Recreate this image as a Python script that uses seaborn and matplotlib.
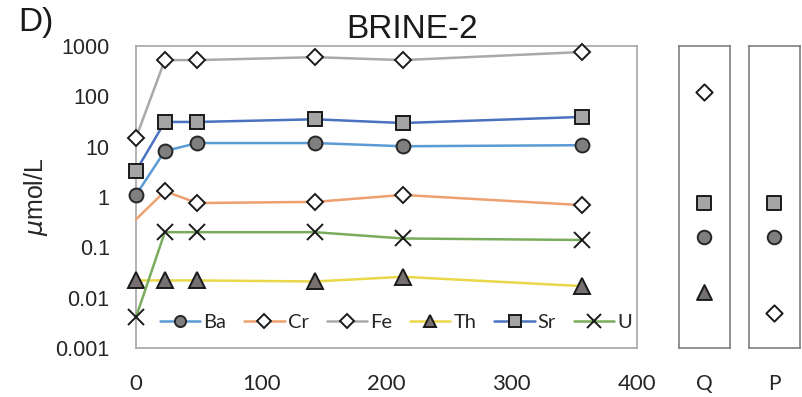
import matplotlib
matplotlib.use("Agg")
import matplotlib.pyplot as plt
import seaborn as sns
import pandas as pd

# Sampling times (days) and concentrations (µmol/L) for BRINE-2
days = [0, 23, 49, 143, 213, 356]
ba = [1.1, 8.2, 11.8, 11.8, 10.2, 10.7]
cr = [0.36, 1.3, 0.76, 0.8, 1.1, 0.69]
fe = [15, 525, 525, 600, 525, 760]
th = [0.022, 0.022, 0.022, 0.021, 0.026, 0.017]
sr = [3.3, 31, 31, 35, 29.5, 39]
u = [0.0041, 0.2, 0.2, 0.2, 0.15, 0.14]

# End-member panels
q_elements = ["Fe", "Sr", "Ba", "Th"]
q_values = [122, 0.76, 0.16, 0.013]
p_elements = ["Sr", "Ba", "Fe"]
p_values = [0.76, 0.16, 0.0049]

y_ticks = [0.001, 0.01, 0.1, 1, 10, 100, 1000]
y_ticklabels = ["0.001", "0.01", "0.1", "1", "10", "100", "1000"]
x_ticks = [0, 100, 200, 300, 400]

sns.set_theme(style="white")
plt.rcParams["font.family"] = ["Liberation Sans", "DejaVu Sans"]

styles = {
    "Ba": dict(color="#5b9bd5", marker="o", mfc="#7f7f7f", mec="#262626", ms=10),
    "Cr": dict(color="#eea070", marker="D", mfc="white", mec="#1a1a1a", ms=8.5),
    "Fe": dict(color="#a9a9a9", marker="D", mfc="white", mec="#1a1a1a", ms=8.5),
    "Th": dict(color="#e8d84a", marker="^", mfc="#777070", mec="#1a1a1a", ms=11),
    "Sr": dict(color="#4a72c0", marker="s", mfc="#a5a5a5", mec="#1a1a1a", ms=10),
    "U": dict(color="#7aac5e", marker="x", mfc="black", mec="#1a1a1a", ms=12),
}
series = {"Ba": ba, "Cr": cr, "Fe": fe, "Th": th, "Sr": sr, "U": u}

fig = plt.figure(figsize=(8.02, 3.97), dpi=100)
ax = fig.add_axes([0.1696, 0.1234, 0.6247, 0.7607])
axq = fig.add_axes([0.8466, 0.1234, 0.0636, 0.7607])
axp = fig.add_axes([0.9339, 0.1234, 0.0636, 0.7607])

spine_color = "#a6a6a6"

for name, vals in series.items():
    st = styles[name]
    df = pd.DataFrame({"day": days, "conc": vals})
    extra = {}
    if name == "Cr":
        extra["markevery"] = list(range(1, len(days)))
    sns.lineplot(data=df, x="day", y="conc", ax=ax, color=st["color"], lw=1.8,
                 marker=st["marker"], markersize=st["ms"],
                 markerfacecolor=st["mfc"], markeredgecolor=st["mec"],
                 markeredgewidth=1.4, label=name, zorder=3, clip_on=False, **extra)

ax.set_yscale("log")
ax.set_ylim(0.001, 1000)
ax.set_xlim(0, 400)
ax.set_yticks(y_ticks)
ax.set_yticklabels(y_ticklabels)
ax.minorticks_off()
ax.set_xticks(x_ticks)
ax.set_xticklabels([str(t) for t in x_ticks], family=["Lato", "DejaVu Sans"])
ax.tick_params(axis="y", length=0, pad=19, labelsize=15.5, colors="#262626")
ax.tick_params(axis="x", length=0, pad=19, labelsize=16, colors="#262626")
ax.set_xlabel("")
ax.set_ylabel("$\\mu$mol/L", fontsize=18, color="#262626", labelpad=4)
for sp in ax.spines.values():
    sp.set_color(spine_color)
    sp.set_linewidth(1.2)

leg = ax.legend(loc="center", bbox_to_anchor=(0.519, 0.083), ncol=6, frameon=False,
                handlelength=2.0, handletextpad=0.15, columnspacing=0.9,
                markerscale=0.8, prop={"family": ["Lato", "DejaVu Sans"], "size": 14.5})
for t in leg.get_texts():
    t.set_color("#262626")

for axs, elems, vals, lab in [(axq, q_elements, q_values, "Q"),
                               (axp, p_elements, p_values, "P")]:
    for el, v in zip(elems, vals):
        st = styles[el]
        sns.scatterplot(x=[0], y=[v], ax=axs, marker=st["marker"], s=(st["ms"] ** 2) * 0.95,
                        color=st["mfc"], edgecolor=st["mec"], linewidth=1.4, zorder=3)
    axs.set_yscale("log")
    axs.set_ylim(0.001, 1000)
    axs.set_xlim(-1, 1)
    axs.set_yticks([])
    axs.minorticks_off()
    axs.set_xticks([0])
    axs.set_xticklabels([lab], family=["Lato", "DejaVu Sans"])
    axs.tick_params(axis="x", length=0, pad=19, labelsize=15, colors="#262626")
    axs.set_xlabel("")
    axs.set_ylabel("")
    for sp in axs.spines.values():
        sp.set_color("#7f7f7f")
        sp.set_linewidth(1.2)

fig.text(412 / 802, 1 - 30 / 397, "BRINE-2", ha="center", va="center",
         fontsize=24, color="#1a1a1a")
fig.text(18 / 802, 1 - 22 / 397, "D)", ha="left", va="center",
         fontsize=24, color="#1a1a1a")

fig.savefig("out.png", dpi=100)
